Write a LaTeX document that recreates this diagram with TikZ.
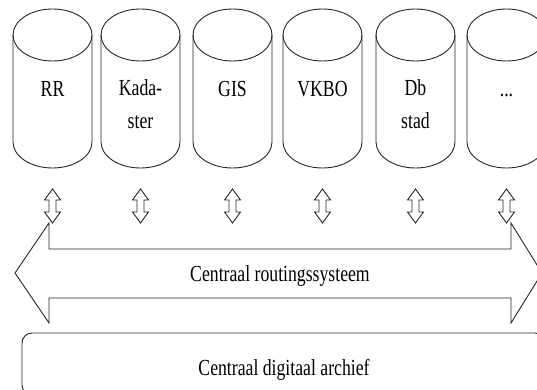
\documentclass[tikz,border=0pt]{standalone}
\usepackage{fontspec}
\setmainfont[FakeStretch=0.77]{Liberation Serif}
\begin{document}
\begin{tikzpicture}[x=1pt,y=1pt]
\tikzset{
  outline/.style={draw=black!85, line width=0.9pt, line join=miter},
  lbl/.style={font=\fontsize{23}{33}\selectfont, align=center, inner sep=0pt, anchor=base},
}
\useasboundingbox (0,0) rectangle (537,-390);
\clip (0,0) rectangle (537,-390);

% databases: cylinders with their names (ty = baseline of the last text line)
\foreach \cx/\nm/\ty/\txt in {52.5/rr/97/RR, 140.5/kad/129/{Kada-\\ster}, 232.5/gis/97/GIS,
                          322.5/vkbo/97/VKBO, 415.5/db/129/{Db\\stad}, 506.5/more/97/{...}}{
  \draw[outline, fill=white] (\cx-39.5,-35) -- (\cx-39.5,-142)
     arc[start angle=180, end angle=360, x radius=39.5, y radius=26] -- (\cx+39.5,-35);
  \draw[outline] (\cx,-35) ellipse[x radius=39.5, y radius=26];
  \node[lbl] (\nm) at (\cx,-\ty) {\txt};
  % two-way exchange with the routing system
  \draw[outline] (\cx,-189) -- (\cx+8,-200) -- (\cx+3.5,-200) -- (\cx+3.5,-212)
     -- (\cx+8,-212) -- (\cx,-223) -- (\cx-8,-212) -- (\cx-3.5,-212)
     -- (\cx-3.5,-200) -- (\cx-8,-200) -- cycle;
}

% central routing system: wide two-headed arrow
\draw[outline] (15,-273) -- (49,-223) -- (49,-249) -- (511,-249) -- (511,-223)
   -- (542,-273) -- (511,-323) -- (511,-298) -- (49,-298) -- (49,-323) -- cycle;
\node[lbl] (routing) at (280,-281.5) {Centraal routingssysteem};

% central digital archive
\draw[outline, rounded corners=10pt] (22,-333) rectangle (545,-395);
\node[lbl] (archief) at (284,-375) {Centraal digitaal archief};
\end{tikzpicture}
\end{document}
